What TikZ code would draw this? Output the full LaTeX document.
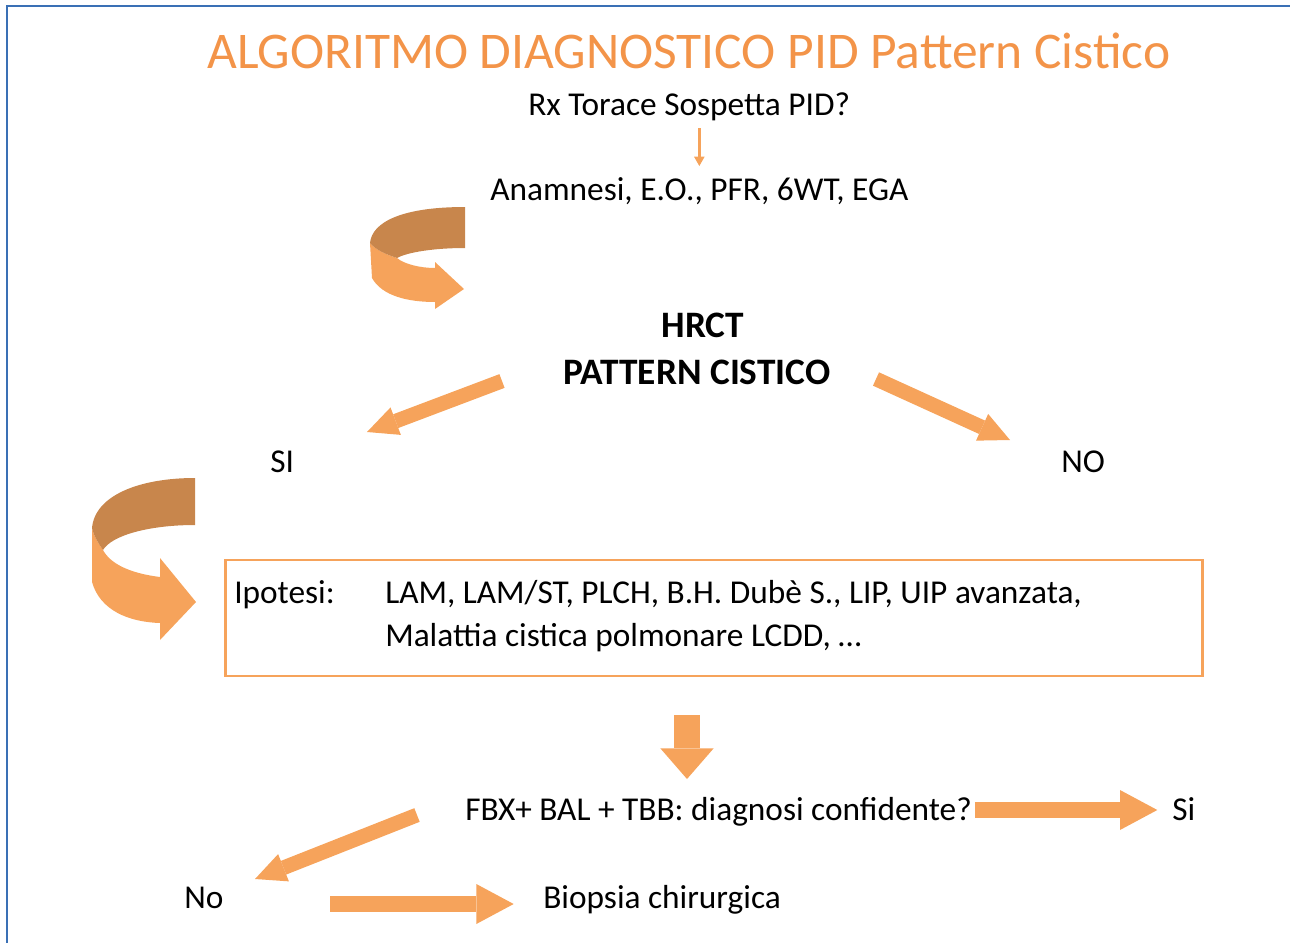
\documentclass[tikz,border=0pt]{standalone}
\usepackage{fontspec}
\setmainfont{Carlito}
\usetikzlibrary{arrows.meta}
\definecolor{titleorange}{HTML}{F39449}
\definecolor{arrowlight}{HTML}{F6A35B}
\definecolor{arrowdark}{HTML}{C8864C}
\definecolor{frameblue}{HTML}{3A70B5}

\begin{document}
\begin{tikzpicture}[x=0.75pt, y=-0.75pt,
    txt/.style={font=\fontsize{25}{30}\selectfont, inner sep=0pt, anchor=base west},
    boldtxt/.style={font=\fontsize{28}{33}\selectfont\bfseries, inner sep=0pt, anchor=base},
    thinarrow/.style={arrowlight, line width=2.2pt, -{Triangle[length=7pt, width=8pt, line width=0pt]}},
    bigarrow/.style={arrowlight, line width=12pt, -{Triangle[length=28pt, width=30pt, line width=0pt]}},
    slantarrow/.style={arrowlight, line width=11pt, -{Triangle[length=23pt, width=22pt, line width=0pt]}},
    downarrow/.style={arrowlight, line width=20pt, -{Triangle[length=23pt, width=40pt, line width=0pt]}}
  ]
  \useasboundingbox (0,0) rectangle (1290,943);
  % frame
  \draw[frameblue, line width=2.2pt] (7,943) -- (7,6) -- (1290,6);

  % texts
  \node[txt, font=\fontsize{38.6}{46}\selectfont, text=titleorange] (title) at (207,68) {ALGORITMO DIAGNOSTICO PID Pattern Cistico};
  \node[txt] (rx) at (528,115) {Rx Torace Sospetta PID?};
  \node[txt] (anam) at (490,200) {Anamnesi, E.O., PFR, 6WT, EGA};
  \node[boldtxt] (hrct) at (703,337) {HRCT};
  \node[boldtxt] (pattern) at (697,384) {PATTERN CISTICO};
  \node[txt] (si) at (270,472) {SI};
  \node[txt] (no) at (1061,472) {NO};

  \node[draw=arrowlight, line width=1.8pt, minimum width=733pt, minimum height=87pt, inner sep=0pt] (hyp) at (714,618) {};
  \node[txt] (ipo) at (234,603) {Ipotesi:};
  \node[txt] (lam) at (385,603) {LAM, LAM/ST, PLCH, B.H. Dubè S., LIP, UIP avanzata,};
  \node[txt] (lcdd) at (385,646) {Malattia cistica polmonare LCDD, …};

  \node[txt] (fbx) at (465,820) {FBX+ BAL + TBB: diagnosi confidente?};
  \node[txt] (siok) at (1172,820) {Si};
  \node[txt] (nook) at (184,908) {No};
  \node[txt] (biop) at (543,908) {Biopsia chirurgica};

  % arrow ends
  \coordinate (si-a) at (502,381);
  \coordinate (si-b) at (367,432);
  \coordinate (no-a) at (876,379);
  \coordinate (no-b) at (1010,440);
  \coordinate (nook-a) at (417,815);
  \coordinate (nook-b) at (255,879);
  \coordinate (biop-a) at (330,904);

  % connectors
  \draw[thinarrow] (anam.north |- 0,128) -- (anam.north |- 0,166);
  \draw[slantarrow] (si-a) -- (si-b);
  \draw[slantarrow] (no-a) -- (no-b);
  \draw[downarrow] (687,715) -- (687,779);
  \draw[bigarrow, shorten <=2pt, shorten >=11pt] (fbx.east |- 0,810) -- (siok.west |- 0,810);
  \draw[slantarrow] (nook-a) -- (nook-b);
  \draw[bigarrow, shorten >=22pt] (biop-a) -- (biop.west |- 0,904);

  % curved ribbon arrow 1
  \fill[arrowlight] (370,243) -- (372,278) .. controls (382,296) and (408,302) .. (435,302)
    -- (435,309) -- (464,289) -- (435,262) -- (435,268)
    .. controls (420,268) and (404,264) .. (397,258) .. controls (385,254) and (376,250) .. (370,243) -- cycle;
  \fill[arrowdark] (465,207) -- (465,248) .. controls (435,248) and (408,252) .. (397,258)
    .. controls (385,254) and (376,250) .. (370,243) .. controls (372,222) and (402,207) .. cycle;

  % curved ribbon arrow 2
  \fill[arrowlight] (92,528) -- (92,582) .. controls (100,610) and (128,622) .. (160,623)
    -- (160,640) -- (196,602) -- (160,558) -- (160,577)
    .. controls (128,573) and (110,563) .. (103,550) .. controls (98,543) and (94,536) .. (92,528) -- cycle;
  \fill[arrowdark] (195,478) -- (195,525) .. controls (150,525) and (112,535) .. (103,550)
    .. controls (98,543) and (94,536) .. (92,528) .. controls (95,495) and (140,478) .. cycle;
\end{tikzpicture}
\end{document}
